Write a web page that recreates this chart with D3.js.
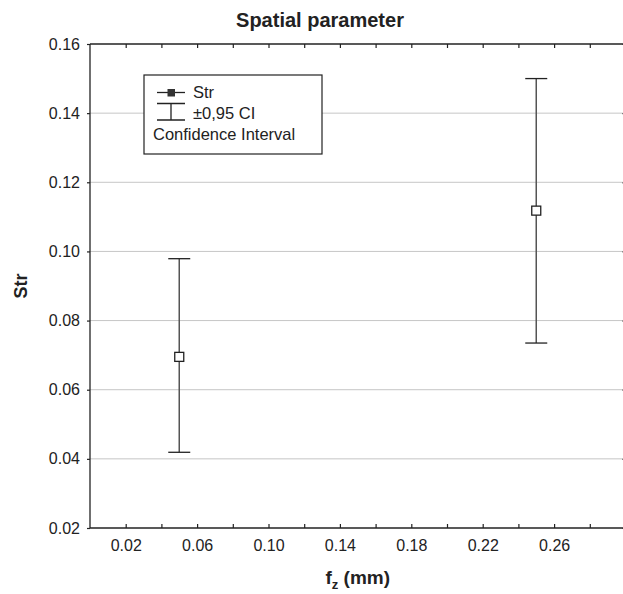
<!DOCTYPE html>
<html>
<head>
<meta charset="utf-8">
<script src="https://cdn.jsdelivr.net/npm/d3@7"></script>
<style>
body { margin: 0; background: #fff; }
svg { display: block; font-family: "Liberation Sans", Arial, Helvetica, sans-serif; }
</style>
</head>
<body>
<svg id="plot"></svg>
<script>
"use strict";

var FZ = [0.05, 0.25];
var STR_MEAN = [0.0695, 0.1118];
var CI_LOW = [0.0419, 0.0735];
var CI_HIGH = [0.0979, 0.1500];
var XTICKS_MINOR = [0.02, 0.04, 0.06, 0.08, 0.10, 0.12, 0.14, 0.16, 0.18, 0.20, 0.22, 0.24, 0.26, 0.28];
var XTICK_LABELS = [0.02, 0.06, 0.10, 0.14, 0.18, 0.22, 0.26];
var YTICKS = [0.02, 0.04, 0.06, 0.08, 0.10, 0.12, 0.14, 0.16];
var LEGEND = ["Str", "\u00b10,95 CI", "Confidence Interval"];

(function() {

var AXIS = "#222";
var BAR = "#555";
var GRID = "#c6c6c6";

var W = 623, H = 594;
var mleft = 90, mright = 625.5, mtop = 44, mbottom = 528;

var svg = d3.select("#plot").attr("width", W).attr("height", H);

var x = d3.scaleLinear().domain([0, 0.3]).range([mleft, mright]);
var y = d3.scaleLinear().domain([0.02, 0.16]).range([mbottom, mtop]);

// grid
svg.append("g").selectAll("line")
    .data(YTICKS.slice(1, -1))
    .enter().append("line")
        .attr("x1", mleft).attr("x2", mright)
        .attr("y1", function(d) { return y(d); })
        .attr("y2", function(d) { return y(d); })
        .attr("stroke", GRID)
        .attr("stroke-width", 1);

// axes
var fmt = d3.format(".2f");
var gl = svg.append("g").attr("transform", "translate(" + mleft + ",0)")
    .call(d3.axisLeft(y).tickValues(YTICKS).tickSize(3).tickPadding(7).tickFormat(fmt));
var gb = svg.append("g").attr("transform", "translate(0," + mbottom + ")")
    .call(d3.axisBottom(x).tickValues(XTICKS_MINOR).tickSize(-4).tickPadding(12)
        .tickFormat(function(d) {
            return XTICK_LABELS.some(function(v) { return Math.abs(v - d) < 1e-9; }) ? fmt(d) : "";
        }));
var gt = svg.append("g").attr("transform", "translate(0," + mtop + ")")
    .call(d3.axisTop(x).tickValues(XTICKS_MINOR).tickSize(-4).tickFormat(""));
var gr = svg.append("g").attr("transform", "translate(" + mright + ",0)")
    .call(d3.axisRight(y).tickValues(YTICKS).tickSize(-3).tickFormat(""));

[gl, gb, gt, gr].forEach(function(g) {
    g.select(".domain").attr("stroke", AXIS).attr("stroke-width", 1.3);
    g.selectAll(".tick line").attr("stroke", AXIS).attr("stroke-width", 1.2);
    g.selectAll("text").attr("fill", "#222").style("font-size", "16px")
        .style("font-family", "\"Liberation Sans\", Arial, sans-serif");
});
gb.select(".domain").attr("d", "M" + mleft + ",0H" + mright);
gt.select(".domain").attr("d", "M" + mleft + ",0H" + mright);
gl.select(".domain").attr("d", "M0," + mtop + "V" + mbottom);
gr.select(".domain").attr("d", "M0," + mtop + "V" + mbottom);

// error bars
var idx = d3.range(FZ.length);
var bars = svg.append("g");
bars.selectAll("line.v").data(idx).enter().append("line")
    .attr("x1", function(i) { return x(FZ[i]); })
    .attr("x2", function(i) { return x(FZ[i]); })
    .attr("y1", function(i) { return y(CI_LOW[i]); })
    .attr("y2", function(i) { return y(CI_HIGH[i]); })
    .attr("stroke", BAR).attr("stroke-width", 1.5);
[CI_LOW, CI_HIGH].forEach(function(arr) {
    bars.selectAll(null).data(idx).enter().append("line")
        .attr("x1", function(i) { return x(FZ[i]) - 11; })
        .attr("x2", function(i) { return x(FZ[i]) + 11; })
        .attr("y1", function(i) { return y(arr[i]); })
        .attr("y2", function(i) { return y(arr[i]); })
        .attr("stroke", AXIS).attr("stroke-width", 1.3);
});
bars.selectAll("rect").data(idx).enter().append("rect")
    .attr("x", function(i) { return x(FZ[i]) - 4.5; })
    .attr("y", function(i) { return y(STR_MEAN[i]) - 4.5; })
    .attr("width", 9).attr("height", 9)
    .attr("fill", "#fff").attr("stroke", AXIS).attr("stroke-width", 1.3);

// legend
var lg = svg.append("g");
lg.append("rect").attr("x", 144).attr("y", 75).attr("width", 178).attr("height", 79)
    .attr("fill", "#fff").attr("stroke", AXIS).attr("stroke-width", 1.2);
lg.append("line").attr("x1", 157).attr("x2", 185).attr("y1", 92.5).attr("y2", 92.5)
    .attr("stroke", AXIS).attr("stroke-width", 1.3);
lg.append("rect").attr("x", 167.5).attr("y", 89).attr("width", 7.5).attr("height", 7.5)
    .attr("fill", "#333");
lg.append("path").attr("d", "M157,103.5H185M171,103.5V120M157,120H185")
    .attr("fill", "none").attr("stroke", AXIS).attr("stroke-width", 1.3);
lg.selectAll("text").data(LEGEND).enter().append("text")
    .attr("x", function(d, i) { return i < 2 ? 193 : 153; })
    .attr("y", function(d, i) { return 97.5 + i * 21; })
    .attr("fill", "#222")
    .style("font-size", "16.5px")
    .text(function(d) { return d; });

// titles
svg.append("text").attr("x", 320).attr("y", 27).attr("text-anchor", "middle")
    .style("font-size", "20px").style("font-weight", "bold").attr("fill", "#222")
    .text("Spatial parameter");

svg.append("text")
    .attr("transform", "translate(27," + ((mtop + mbottom) / 2) + ") rotate(-90)")
    .attr("text-anchor", "middle")
    .style("font-size", "18px").style("font-weight", "bold").attr("fill", "#222")
    .text("Str");

var xl = svg.append("text").attr("x", (mleft + mright) / 2).attr("y", 584).attr("text-anchor", "middle")
    .style("font-size", "19px").style("font-weight", "bold").attr("fill", "#222");
xl.append("tspan").text("f");
xl.append("tspan").attr("dy", 5).style("font-size", "13px").text("z");
xl.append("tspan").attr("dy", -5).text(" (mm)");

}());
</script>
</body>
</html>
